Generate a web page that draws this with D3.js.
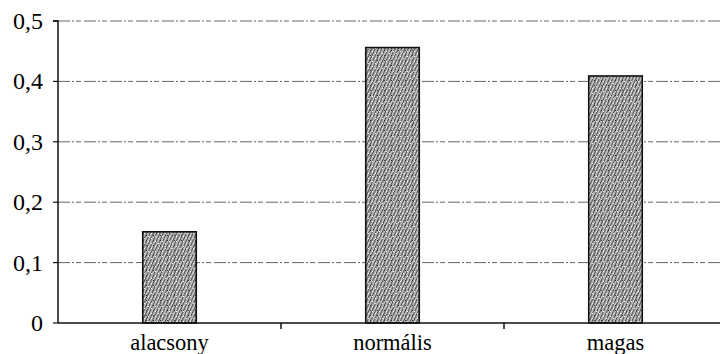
<!DOCTYPE html>
<html>
<head>
<meta charset="utf-8">
<script src="https://cdn.jsdelivr.net/npm/d3@7/dist/d3.min.js"></script>
</head>
<body style="margin:0">
<svg id="chart" width="720" height="354"></svg>
<script>
// Categories and values
const categories = ["alacsony", "normális", "magas"];
const values = [0.151, 0.456, 0.409];
const yTicks = [0, 0.1, 0.2, 0.3, 0.4, 0.5];
const yTickLabels = ["0", "0,1", "0,2", "0,3", "0,4", "0,5"];

const W = 720, H = 354;
const margin = { left: 58, top: 21, bottom: 31 };
const plotRight = 727;

const svg = d3.select("#chart");

// Fine diagonal hatching for the bars, with a second offset layer for grain
const defs = svg.append("defs");
const pat = defs.append("pattern")
  .attr("id", "hatch")
  .attr("patternUnits", "userSpaceOnUse")
  .attr("width", 3).attr("height", 3)
  .attr("patternTransform", "rotate(25)");
pat.append("rect").attr("width", 3).attr("height", 3).attr("fill", "#c6c6c6");
pat.append("rect").attr("width", 1.2).attr("height", 3).attr("fill", "#505050");

const dots = defs.append("pattern")
  .attr("id", "dots")
  .attr("patternUnits", "userSpaceOnUse")
  .attr("width", 7).attr("height", 5);
dots.append("rect").attr("x", 1).attr("y", 1).attr("width", 1).attr("height", 1).attr("fill", "#fff");
dots.append("rect").attr("x", 4).attr("y", 3).attr("width", 1).attr("height", 1).attr("fill", "#eee");
dots.append("rect").attr("x", 6).attr("y", 0).attr("width", 1).attr("height", 1).attr("fill", "#333");

const x = d3.scaleBand()
  .domain(categories)
  .range([margin.left, plotRight])
  .paddingInner(0.76)
  .paddingOuter(0.38);

const xTicksScale = d3.scaleBand()
  .domain(categories)
  .range([margin.left, plotRight]);

const y = d3.scaleLinear()
  .domain([0, 0.5])
  .range([H - margin.bottom, margin.top]);

// Gridlines
svg.append("g")
  .selectAll("line")
  .data(yTicks.filter(d => d > 0))
  .join("line")
  .attr("x1", margin.left).attr("x2", W)
  .attr("y1", d => y(d)).attr("y2", d => y(d))
  .attr("stroke", "#666")
  .attr("stroke-width", 1)
  .attr("stroke-dasharray", "12,2,2,2,5,3");

// Bars
const bars = svg.append("g");
["url(#hatch)", "url(#dots)"].forEach(fill => {
  bars.append("g").selectAll("rect")
    .data(values)
    .join("rect")
    .attr("x", (d, i) => x(categories[i]))
    .attr("y", d => y(d))
    .attr("width", x.bandwidth())
    .attr("height", d => y(0) - y(d))
    .attr("fill", fill);
});
bars.append("g").selectAll("rect")
  .data(values)
  .join("rect")
  .attr("x", (d, i) => x(categories[i]))
  .attr("y", d => y(d))
  .attr("width", x.bandwidth())
  .attr("height", d => y(0) - y(d))
  .attr("fill", "none")
  .attr("stroke", "#111")
  .attr("stroke-width", 1.6);

// Y axis: line and ticks
const gy = svg.append("g").attr("transform", `translate(${margin.left},0)`);
gy.append("path")
  .attr("d", `M-5,${y(0.5)}H0V${y(0)}`)
  .attr("fill", "none")
  .attr("stroke", "#111").attr("stroke-width", 1.5);
gy.selectAll("line")
  .data(yTicks)
  .join("line")
  .attr("x1", -5).attr("x2", 0)
  .attr("y1", d => y(d)).attr("y2", d => y(d))
  .attr("stroke", "#111").attr("stroke-width", 1.2);

// X axis baseline with ticks between categories
const gx = svg.append("g").attr("transform", `translate(0,${y(0)})`);
gx.append("line")
  .attr("x1", margin.left).attr("x2", W)
  .attr("y1", 0).attr("y2", 0)
  .attr("stroke", "#111").attr("stroke-width", 1.5);
gx.selectAll("line.sep")
  .data(categories.slice(1))
  .join("line")
  .attr("class", "sep")
  .attr("x1", d => xTicksScale(d)).attr("x2", d => xTicksScale(d))
  .attr("y1", 0).attr("y2", 6)
  .attr("stroke", "#111").attr("stroke-width", 1.5);

// Tick labels, right-aligned by measuring their width
svg.selectAll("text.ylab")
  .data(yTicks)
  .join("text")
  .attr("class", "ylab")
  .attr("y", d => y(d) + 8)
  .style("font-family", '"Liberation Serif"')
  .style("font-size", "24px")
  .text((d, i) => yTickLabels[i])
  .attr("x", function () { return margin.left - 15 - this.getComputedTextLength(); });

// Category labels, centred under each bar
svg.selectAll("text.xlab")
  .data(categories)
  .join("text")
  .attr("class", "xlab")
  .attr("y", y(0) + 27)
  .style("font-family", '"Liberation Serif"')
  .style("font-size", "22.5px")
  .text(d => d)
  .attr("x", function (d) { return x(d) + x.bandwidth() / 2 - this.getComputedTextLength() / 2; });
</script>
</body>
</html>
